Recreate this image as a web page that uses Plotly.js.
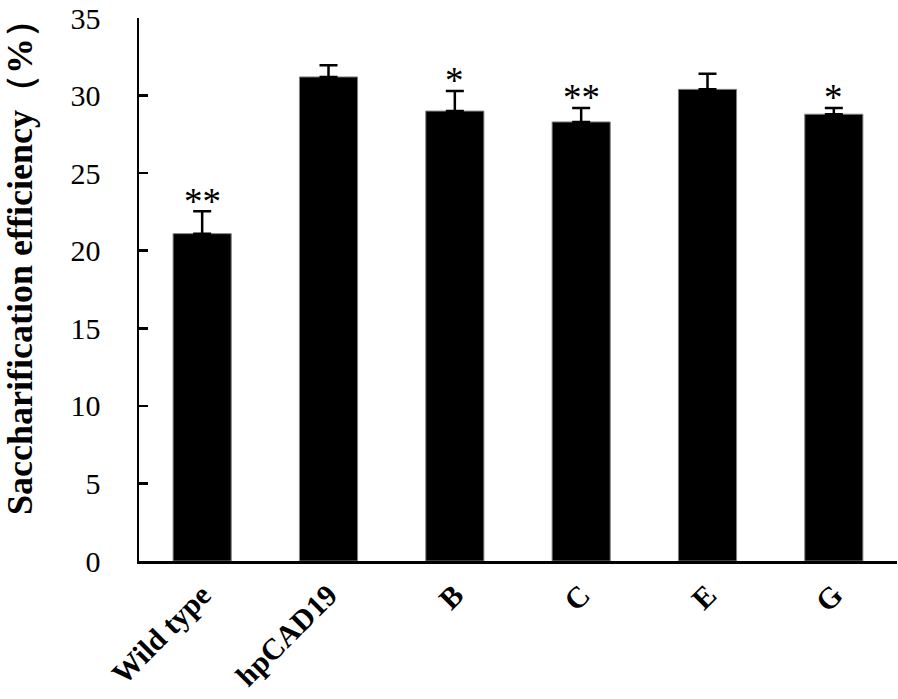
<!DOCTYPE html>
<html>
<head>
<meta charset="utf-8">
<script src="https://cdn.plot.ly/plotly-3.0.1.min.js"></script>
<style>
  html, body { margin: 0; padding: 0; background: #fff; }
  #chart { width: 898px; height: 699px; }
</style>
</head>
<body>
<div id="chart"></div>
<script>
// lines and their saccharification values (%)
const lines = ["Wild type", "hpCAD19", "B", "C", "E", "G"];
const efficiency = [21.1, 31.2, 29.0, 28.3, 30.4, 28.8];
const errUp = [1.45, 0.75, 1.3, 0.9, 1.0, 0.4];
const signif = ["**", "", "*", "**", "", "*"];

const serif = "Liberation Serif";

const trace = {
    x: lines,
    y: efficiency,
    type: "bar",
    marker: { color: "#000", line: { color: "#808080", width: 1 } },
    error_y: {
        type: "data",
        symmetric: false,
        array: errUp,
        arrayminus: errUp.map(() => 0),
        color: "#000",
        thickness: 2.5,
        width: 9
    },
    hoverinfo: "skip"
};

// stars above the error bars
const stars = lines.map((name, i) => ({
    x: name,
    y: efficiency[i] + errUp[i],
    text: signif[i],
    showarrow: false,
    yanchor: "middle",
    yshift: 10,
    font: { family: serif, size: 37, color: "#000" }
})).filter(a => a.text !== "");

// y title as an annotation so it can sit where the original has it
const yTitle = {
    text: "<b>Saccharification efficiency（%）</b>",
    textangle: -90,
    xref: "paper", yref: "paper",
    x: -0.157, y: 0.082,
    xanchor: "center", yanchor: "bottom",
    showarrow: false,
    font: { family: serif, size: 36, color: "#000" }
};

const layout = {
    width: 898,
    height: 699,
    margin: { t: 18, b: 138, l: 139, r: 1 },
    paper_bgcolor: "#fff",
    plot_bgcolor: "#fff",
    showlegend: false,
    bargap: 0.54,
    font: { family: serif, color: "#000" },
    xaxis: {
        type: "category",
        showline: true,
        linecolor: "#000",
        linewidth: 2.5,
        ticks: "",
        tickangle: -45,
        tickfont: { family: serif, size: 30, weight: "bold" },
        ticklabelstandoff: 2,
        showgrid: false,
        zeroline: false
    },
    yaxis: {
        range: [0, 35],
        dtick: 5,
        showline: true,
        linecolor: "#000",
        linewidth: 2.5,
        ticks: "inside",
        ticklen: 9,
        tickwidth: 2.5,
        tickcolor: "#000",
        tickfont: { family: serif, size: 30 },
        ticklabelstandoff: 30,
        showgrid: false,
        zeroline: false
    },
    annotations: stars.concat([yTitle])
};

Plotly.newPlot("chart", [trace], layout, { displayModeBar: false, staticPlot: true });
</script>
</body>
</html>
